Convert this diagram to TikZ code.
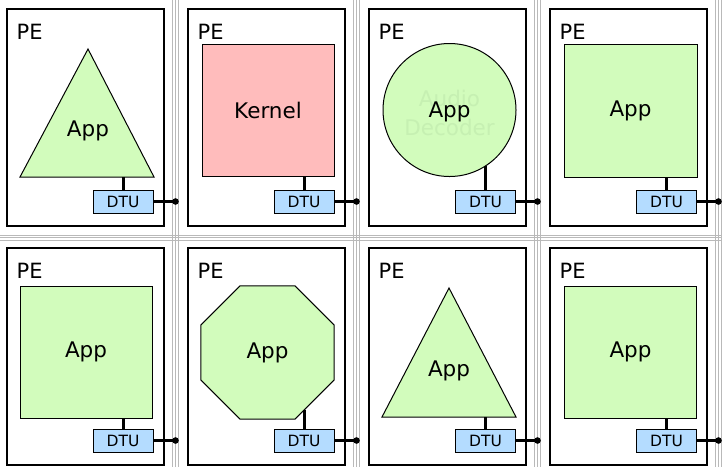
\documentclass[tikz,border=0pt]{standalone}
\usepackage{fontspec}
\setmainfont{DejaVu Sans}
\usepackage{xcolor}
\usepackage{tikz}
\usetikzlibrary{shapes,shapes.geometric}
\definecolor{appgreen}{RGB}{210,252,188}
\definecolor{kernelred}{RGB}{255,188,188}
\definecolor{dtublue}{RGB}{180,220,255}
\definecolor{faintgreen}{RGB}{198,240,178}
\tikzset{
  pe/.style={draw, line width=2.8pt, minimum width=157pt, minimum height=217pt, inner sep=0pt},
  pelabel/.style={anchor=north west, inner sep=0pt, font=\fontsize{21}{24}\selectfont},
  app/.style={draw, fill=appgreen, line width=1pt, inner sep=0pt, font=\fontsize{21.5}{24}\selectfont},
  apptext/.style={inner sep=0pt, font=\fontsize{21.5}{24}\selectfont},
  faint/.style={inner sep=0pt, align=center, text=faintgreen, font=\fontsize{21.5}{29}\selectfont},
  dtu/.style={draw, fill=dtublue, line width=1pt, minimum width=60pt, minimum height=23pt, inner sep=0pt, font=\fontsize{15.5}{18}\selectfont},
  link/.style={line width=3pt},
  bus/.style={gray!55, line width=0.9pt},
}

\begin{document}
\begin{tikzpicture}[x=1pt, y=-1pt]
  \useasboundingbox (0,0) rectangle (722,467);
  \clip (0,0) rectangle (722,467);
  % network
  \draw[bus] (0,235.2) -- (722,235.2) (0,237.7) -- (722,237.7) (0,240.2) -- (722,240.2);
  \draw[bus] (172.8,0) -- (172.8,467) (175.5,0) -- (175.5,467) (178.2,0) -- (178.2,467);
  \draw[bus] (353.8,0) -- (353.8,467) (356.5,0) -- (356.5,467) (359.2,0) -- (359.2,467);
  \draw[bus] (534.8,0) -- (534.8,467) (537.5,0) -- (537.5,467) (540.2,0) -- (540.2,467);
  \draw[bus] (715.8,0) -- (715.8,467) (718.5,0) -- (718.5,467) (721.2,0) -- (721.2,467);

  % processing elements
  \node[pe] (pe1) at (85.5,117.5) {};
  \node[pe] (pe2) at (266.5,117.5) {};
  \node[pe] (pe3) at (447.5,117.5) {};
  \node[pe] (pe4) at (628.5,117.5) {};
  \node[pe] (pe5) at (85.5,356.5) {};
  \node[pe] (pe6) at (266.5,356.5) {};
  \node[pe] (pe7) at (447.5,356.5) {};
  \node[pe] (pe8) at (628.5,356.5) {};
  \node[pelabel] (lbl1) at (16.5,23.5) {PE};
  \node[pelabel] (lbl2) at (197.5,23.5) {PE};
  \node[pelabel] (lbl3) at (378.5,23.5) {PE};
  \node[pelabel] (lbl4) at (559.5,23.5) {PE};
  \node[pelabel] (lbl5) at (16.5,262.5) {PE};
  \node[pelabel] (lbl6) at (197.5,262.5) {PE};
  \node[pelabel] (lbl7) at (378.5,262.5) {PE};
  \node[pelabel] (lbl8) at (559.5,262.5) {PE};

  % first row
  \draw[app] (88,49) coordinate (tri1t) -- (154,177) coordinate (tri1r) -- (20,177) coordinate (tri1l) -- cycle;
  \node[apptext] (app1) at (88,130.5) {App};
  \node[app, fill=kernelred, minimum size=132pt] (kernel2) at (268,110) {Kernel};
  \node[app, circle, minimum size=133pt] (app3) at (449.5,110) {};
  \node[faint] (dec3) at (449.5,113) {Audio\\Decoder};
  \node[apptext] (txt3) at (449.5,112) {App};
  \node[app, minimum size=133pt] (app4) at (630.5,110.5) {App};

  % second row
  \node[app, minimum size=132pt] (app5) at (86,352) {App};
  \node[app, regular polygon, regular polygon sides=8, minimum size=144pt] (app6) at (267.5,352.5) {App};
  \draw[app] (449,288) coordinate (tri7t) -- (516,417) coordinate (tri7r) -- (382,417) coordinate (tri7l) -- cycle;
  \node[apptext] (app7) at (449,371) {App};
  \node[app, minimum size=132pt] (app8) at (630.5,352) {App};

  % data transfer units
  \node[dtu] (dtu1) at (123,201.5) {DTU};
  \node[dtu] (dtu2) at (304,201.5) {DTU};
  \node[dtu] (dtu3) at (485.5,201.5) {DTU};
  \node[dtu] (dtu4) at (666.5,201.5) {DTU};
  \node[dtu] (dtu5) at (123,440.5) {DTU};
  \node[dtu] (dtu6) at (304,440.5) {DTU};
  \node[dtu] (dtu7) at (485.5,440.5) {DTU};
  \node[dtu] (dtu8) at (666.5,440.5) {DTU};
  \coordinate (bus1) at (175.5,201.5);
  \coordinate (bus2) at (356.5,201.5);
  \coordinate (bus3) at (537.5,201.5);
  \coordinate (bus4) at (718.5,201.5);
  \coordinate (bus5) at (175.5,440.5);
  \coordinate (bus6) at (356.5,440.5);
  \coordinate (bus7) at (537.5,440.5);
  \coordinate (bus8) at (718.5,440.5);

  % links
  \draw[link] (dtu1.north) -- (dtu1.north |- tri1l);
  \draw[link] (dtu2.north) -- (dtu2.north |- kernel2.south);
  \draw[link] (dtu3.north) -- (dtu3.north |- app3.-57);
  \draw[link] (dtu4.north) -- (dtu4.north |- app4.south);
  \draw[link] (dtu5.north) -- (dtu5.north |- app5.south);
  \draw[link] (dtu6.north) -- (dtu6.north |- app6.-57.6);
  \draw[link] (dtu7.north) -- (dtu7.north |- tri7l);
  \draw[link] (dtu8.north) -- (dtu8.north |- app8.south);
  \draw[link] (dtu1.east) -- (bus1);
  \draw[link] (dtu2.east) -- (bus2);
  \draw[link] (dtu3.east) -- (bus3);
  \draw[link] (dtu4.east) -- (bus4);
  \draw[link] (dtu5.east) -- (bus5);
  \draw[link] (dtu6.east) -- (bus6);
  \draw[link] (dtu7.east) -- (bus7);
  \draw[link] (dtu8.east) -- (bus8);
  \fill (bus1) circle (3.3pt);
  \fill (bus2) circle (3.3pt);
  \fill (bus3) circle (3.3pt);
  \fill (bus4) circle (3.3pt);
  \fill (bus5) circle (3.3pt);
  \fill (bus6) circle (3.3pt);
  \fill (bus7) circle (3.3pt);
  \fill (bus8) circle (3.3pt);
\end{tikzpicture}
\end{document}
